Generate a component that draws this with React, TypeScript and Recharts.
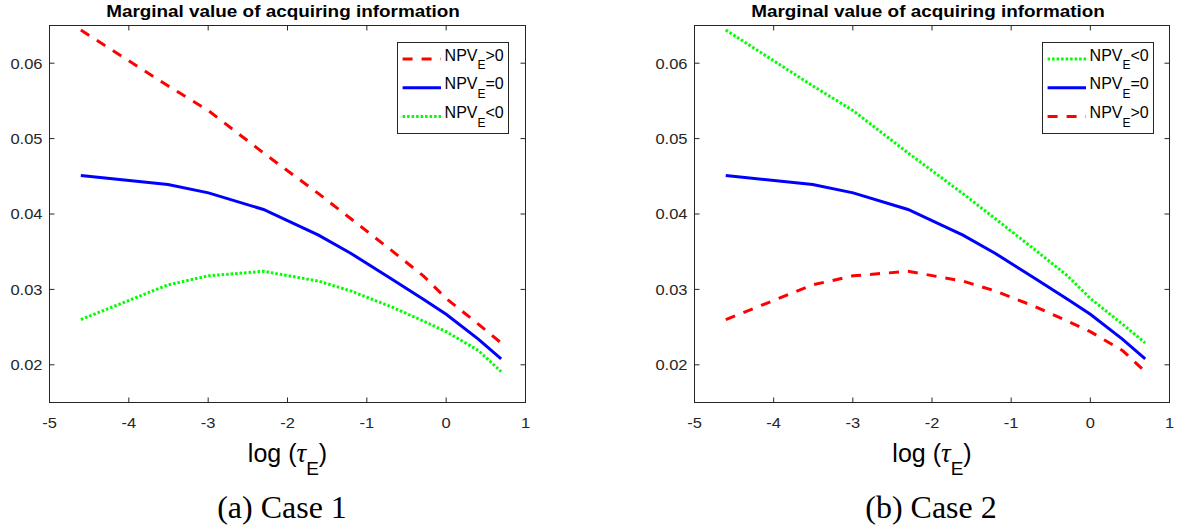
import React from 'react';
import { LineChart, Line, XAxis, YAxis, ReferenceArea } from 'recharts';

// log(tau_E) grid and the three curves (upper / middle / lower)
const LOG_TAU = [-4.605, -3.507, -2.996, -2.303, -1.609, -1.204, -0.693, -0.288, 0, 0.405, 0.693];
const UPPER = [0.0644, 0.057, 0.0537, 0.0481, 0.0427, 0.0394, 0.0352, 0.0318, 0.0288, 0.0254, 0.0229];
const MIDDLE = [0.0451, 0.0439, 0.0428, 0.0406, 0.0372, 0.0348, 0.0314, 0.0287, 0.0267, 0.0234, 0.0208];
const LOWER = [0.026, 0.0306, 0.0318, 0.0324, 0.0311, 0.0298, 0.0277, 0.0258, 0.0244, 0.0219, 0.0191];

const X_TICKS = [-5, -4, -3, -2, -1, 0, 1];
const Y_TICKS = [0.02, 0.03, 0.04, 0.05, 0.06];
const X_DOMAIN = [-5, 1];
const Y_DOMAIN = [0.015, 0.065];

const TITLE = 'Marginal value of acquiring information';

const data = LOG_TAU.map((x, i) => ({ x, upper: UPPER[i], middle: MIDDLE[i], lower: LOWER[i] }));

const RED = { color: '#ff0000', dash: '10 9' };
const BLUE = { color: '#0000ff', dash: undefined };
const GREEN = { color: '#00ff00', dash: '2.5 2' };

type Series = { key: string; sign: string; style: { color: string; dash?: string } };

const CASE1: Series[] = [
  { key: 'upper', sign: '>0', style: RED },
  { key: 'middle', sign: '=0', style: BLUE },
  { key: 'lower', sign: '<0', style: GREEN },
];
const CASE2: Series[] = [
  { key: 'upper', sign: '<0', style: GREEN },
  { key: 'middle', sign: '=0', style: BLUE },
  { key: 'lower', sign: '>0', style: RED },
];

const AXIS = '#262626';
const SANS = '"Liberation Sans", Arial, Helvetica, sans-serif';
const SERIF = '"Liberation Serif", "Times New Roman", serif';
const TICK_LEN = 5;
const X_GAP = 15;
const Y_GAP = 7;
const STRETCH = 1.1;

const CHART_H = 529;
const TOP = 25.5;
const X_AXIS_H = 126.5;
const Y_AXIS_W = 49.5;
const BOTTOM = CHART_H - X_AXIS_H;

const PANELS = [
  { left: 0, width: 560, marginRight: 34.5, series: CASE1, title: 282.5, caption: '(a) Case 1', captionX: 282, legend: 397 },
  { left: 645, width: 533, marginRight: 8.5, series: CASE2, title: 928, caption: '(b) Case 2', captionX: 931, legend: 1042 },
];

const BottomTick = ({ x, y, payload }: any) => (
  <text
    transform={`translate(${x},${y}) scale(${STRETCH},1)`}
    dy="0.71em"
    textAnchor="middle"
    fill={AXIS}
    fontSize={15}
    fontFamily={SANS}
  >
    {payload.value}
  </text>
);

const LeftTick = ({ x, y, payload }: any) => (
  <text
    transform={`translate(${x},${y}) scale(${STRETCH},1)`}
    dy="0.355em"
    textAnchor="end"
    fill={AXIS}
    fontSize={15}
    fontFamily={SANS}
  >
    {Number(payload.value).toFixed(2)}
  </text>
);

// axes box with inward ticks on all four sides (MATLAB "box on")
function AxesFrame({ left, right }: { left: number; right: number }) {
  const sx = (v: number) => left + ((v - X_DOMAIN[0]) / (X_DOMAIN[1] - X_DOMAIN[0])) * (right - left);
  const sy = (v: number) => BOTTOM - ((v - Y_DOMAIN[0]) / (Y_DOMAIN[1] - Y_DOMAIN[0])) * (BOTTOM - TOP);
  return (
    <g stroke={AXIS} strokeWidth={1} fill="none">
      <rect x={left} y={TOP} width={right - left} height={BOTTOM - TOP} />
      {X_TICKS.map((t) => (
        <g key={`x${t}`}>
          <line x1={sx(t)} x2={sx(t)} y1={BOTTOM} y2={BOTTOM - TICK_LEN} />
          <line x1={sx(t)} x2={sx(t)} y1={TOP} y2={TOP + TICK_LEN} />
        </g>
      ))}
      {Y_TICKS.map((t) => (
        <g key={`y${t}`}>
          <line x1={left} x2={left + TICK_LEN} y1={sy(t)} y2={sy(t)} />
          <line x1={right} x2={right - TICK_LEN} y1={sy(t)} y2={sy(t)} />
        </g>
      ))}
    </g>
  );
}

function LegendBox({ series }: { series: Series[] }) {
  return (
    <svg width={112} height={92} style={{ display: 'block' }}>
      <rect x={0.5} y={0.5} width={111} height={91} fill="#fff" stroke={AXIS} strokeWidth={1} />
      {series.map((s, i) => {
        const ly = 17 + i * 28.7;
        return (
          <g key={s.key}>
            <line
              x1={5.6}
              x2={44}
              y1={ly}
              y2={ly}
              stroke={s.style.color}
              strokeWidth={3}
              strokeDasharray={s.style.dash}
            />
            <text x={47.6} y={ly + 1.7} fontFamily={SANS} fontSize={16} fill="#000">
              NPV
              <tspan dy={8.6} fontSize={12}>E</tspan>
              <tspan dy={-8.6} fontSize={16}>{s.sign}</tspan>
            </text>
          </g>
        );
      })}
    </svg>
  );
}

const xLabel = (props: any) => {
  const { x, y, width } = props.viewBox;
  return (
    <text x={x + width / 2} y={y + 59} textAnchor="middle" fontFamily={SANS} fontSize={25} fill="#000">
      {'log ('}
      <tspan fontFamily={SERIF} fontStyle="italic" fontSize={27}>τ</tspan>
      <tspan dy={13.4} fontSize={19}>E</tspan>
      <tspan dy={-13.4} fontSize={25}>)</tspan>
    </text>
  );
};

function CasePanel({ series, width, marginRight }: { series: Series[]; width: number; marginRight: number }) {
  return (
    <LineChart width={width} height={CHART_H} data={data} margin={{ top: TOP, right: marginRight, bottom: 0, left: 0 }}>
      <XAxis
        dataKey="x"
        type="number"
        domain={X_DOMAIN}
        ticks={X_TICKS}
        height={X_AXIS_H}
        stroke={AXIS}
        tickLine={false}
        tickSize={0}
        tickMargin={X_GAP}
        tick={<BottomTick />}
        label={xLabel}
      />
      <YAxis
        type="number"
        domain={Y_DOMAIN}
        ticks={Y_TICKS}
        width={Y_AXIS_W}
        stroke={AXIS}
        tickLine={false}
        tickSize={0}
        tickMargin={Y_GAP}
        tick={<LeftTick />}
      />
      <ReferenceArea
        x1={X_DOMAIN[0]}
        x2={X_DOMAIN[1]}
        y1={Y_DOMAIN[0]}
        y2={Y_DOMAIN[1]}
        fill="#ffffff"
        fillOpacity={0}
        stroke={AXIS}
        strokeWidth={1}
      />
      {series.map((s) => (
        <Line
          key={s.key}
          type="linear"
          dataKey={s.key}
          stroke={s.style.color}
          strokeWidth={3}
          strokeDasharray={s.style.dash}
          dot={false}
          activeDot={false}
          isAnimationActive={false}
        />
      ))}
    </LineChart>
  );
}

const titleStyle = (center: number): React.CSSProperties => ({
  position: 'absolute',
  left: center - 250,
  top: 1,
  width: 500,
  textAlign: 'center',
  fontFamily: SANS,
  fontWeight: 'bold',
  fontSize: 16.3,
  lineHeight: '20px',
  whiteSpace: 'nowrap',
  transform: 'scaleX(1.16)',
  color: '#000',
});

const captionStyle = (center: number): React.CSSProperties => ({
  position: 'absolute',
  left: center - 150,
  top: 489,
  width: 300,
  textAlign: 'center',
  fontFamily: SERIF,
  fontSize: 32,
  lineHeight: '36px',
  whiteSpace: 'nowrap',
  color: '#000',
});

export default function App() {
  return (
    <div style={{ position: 'absolute', left: 0, top: 0, width: 1178, height: 529 }}>
      {PANELS.map((p) => (
        <div key={p.caption} style={{ position: 'absolute', left: p.left, top: 0 }}>
          <CasePanel series={p.series} width={p.width} marginRight={p.marginRight} />
        </div>
      ))}
      <svg
        width={1178}
        height={529}
        style={{ position: 'absolute', left: 0, top: 0, pointerEvents: 'none' }}
      >
        {PANELS.map((p) => (
          <AxesFrame key={p.caption} left={p.left + Y_AXIS_W} right={p.left + p.width - p.marginRight} />
        ))}
      </svg>
      {PANELS.map((p) => (
        <React.Fragment key={p.caption}>
          <div style={{ position: 'absolute', left: p.legend, top: 42 }}>
            <LegendBox series={p.series} />
          </div>
          <div style={titleStyle(p.title)}>{TITLE}</div>
          <div style={captionStyle(p.captionX)}>{p.caption}</div>
        </React.Fragment>
      ))}
    </div>
  );
}
